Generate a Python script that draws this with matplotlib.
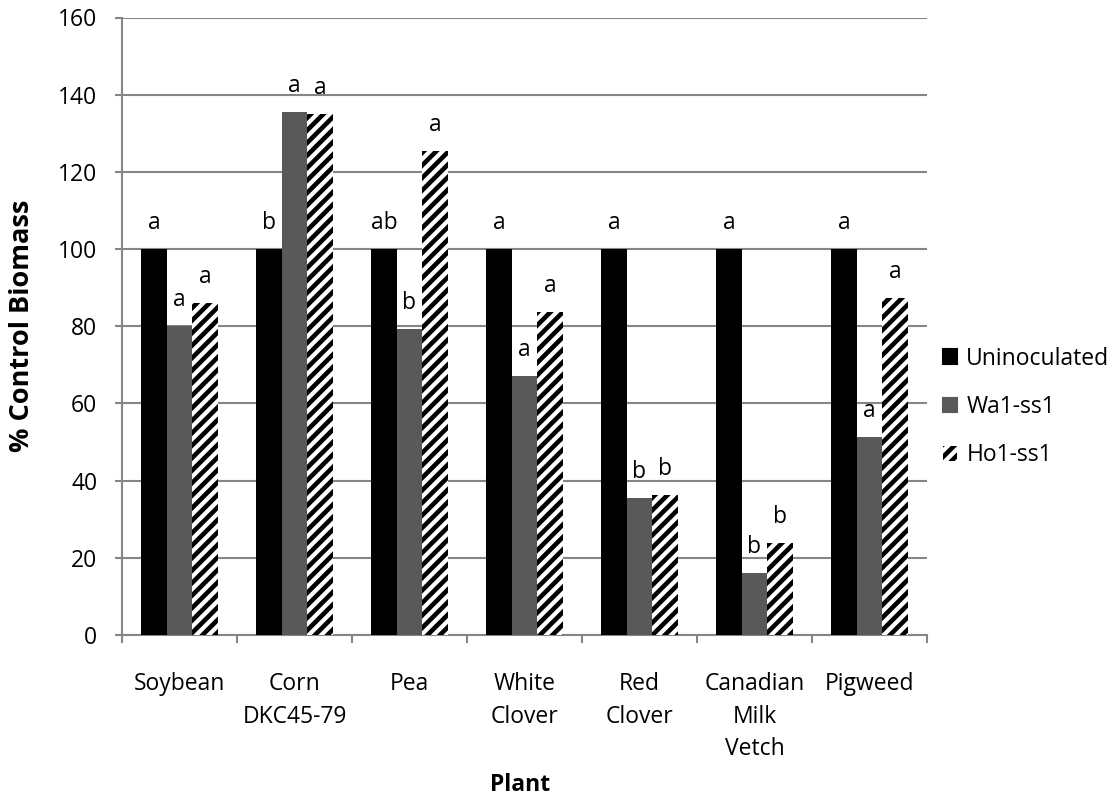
import matplotlib
matplotlib.use("Agg")
import matplotlib.pyplot as plt
from matplotlib.patches import Patch
import numpy as np

plt.rcParams['font.family'] = ['Open Sans', 'DejaVu Sans']
plt.rcParams['hatch.linewidth'] = 2.2

plants = ["Soybean", "Corn\nDKC45-79", "Pea", "White\nClover", "Red\nClover",
          "Canadian\nMilk\nVetch", "Pigweed"]
series_names = ["Uninoculated", "Wa1-ss1", "Ho1-ss1"]
uninoculated = [100, 100, 100, 100, 100, 100, 100]
wa1_ss1 = [80.0, 135.5, 79.3, 67.2, 35.4, 16.1, 51.4]
ho1_ss1 = [86.0, 135.0, 125.4, 83.8, 36.3, 23.8, 87.2]
letters_unin = ["a", "b", "ab", "a", "a", "a", "a"]
letters_wa1 = ["a", "a", "b", "a", "b", "b", "a"]
letters_ho1 = ["a", "a", "a", "a", "b", "b", "a"]
y_ticks = [0, 20, 40, 60, 80, 100, 120, 140, 160]

W, H = 1118, 797
DPI = 150
fig = plt.figure(figsize=(W / DPI, H / DPI), dpi=DPI)
ax = fig.add_axes([122 / W, 1 - 635 / H, (927 - 122) / W, (635 - 17.5) / H])

FS = 11
grid_c = "#868686"
x = np.arange(len(plants))
w = 1 / 4.5

styles = [
    dict(color="#000000"),
    dict(color="#595959"),
    dict(facecolor="white", edgecolor="black", hatch="////", linewidth=0),
]
all_vals = [uninoculated, wa1_ss1, ho1_ss1]
all_letters = [letters_unin, letters_wa1, letters_ho1]
for k, (vals, lets, st) in enumerate(zip(all_vals, all_letters, styles)):
    xs = x + (k - 1) * w
    ax.bar(xs, vals, width=w, zorder=3, **st)
    for xi, v, t in zip(xs, vals, lets):
        ax.annotate(t, (xi, v), xytext=(0, 12.5), textcoords="offset points",
                    ha="center", va="center", fontsize=FS, color="black")

ax.set_xlim(-0.5, len(plants) - 0.5)
ax.set_ylim(0, 160)
ax.set_yticks(y_ticks)
ax.yaxis.grid(True, color=grid_c, linewidth=1.0, zorder=0)
ax.set_axisbelow(True)

ax.set_xticks(x)
ax.set_xticklabels(plants, fontsize=FS, linespacing=1.45)
ax.set_xticks(np.arange(len(plants) + 1) - 0.5, minor=True)
ax.tick_params(axis="x", which="major", length=0, pad=18)
ax.tick_params(axis="x", which="minor", length=4, color=grid_c, width=1.0)
ax.tick_params(axis="y", length=3.4, color=grid_c, width=1.0, pad=8.5, labelsize=FS)

for s in ["top", "right"]:
    ax.spines[s].set_visible(False)
for s in ["left", "bottom"]:
    ax.spines[s].set_color(grid_c)
    ax.spines[s].set_linewidth(1.0)

fig.text(22 / W, 1 - 326 / H, "% Control Biomass", rotation=90, ha="center",
         va="center", fontsize=13, fontweight="bold")
fig.text(520 / W, 1 - 785 / H, "Plant", ha="center", va="center",
         fontsize=FS, fontweight="bold")

handles = [Patch(**styles[0]), Patch(**styles[1]), Patch(**styles[2])]
fig.legend(handles, series_names, loc="center left",
           bbox_to_anchor=(943 / W, 1 - 407 / H), frameon=False, fontsize=FS,
           handlelength=0.62, handleheight=0.62, handletextpad=0.4,
           labelspacing=1.06, borderpad=0, borderaxespad=0)

fig.savefig("out.png", dpi=DPI)
